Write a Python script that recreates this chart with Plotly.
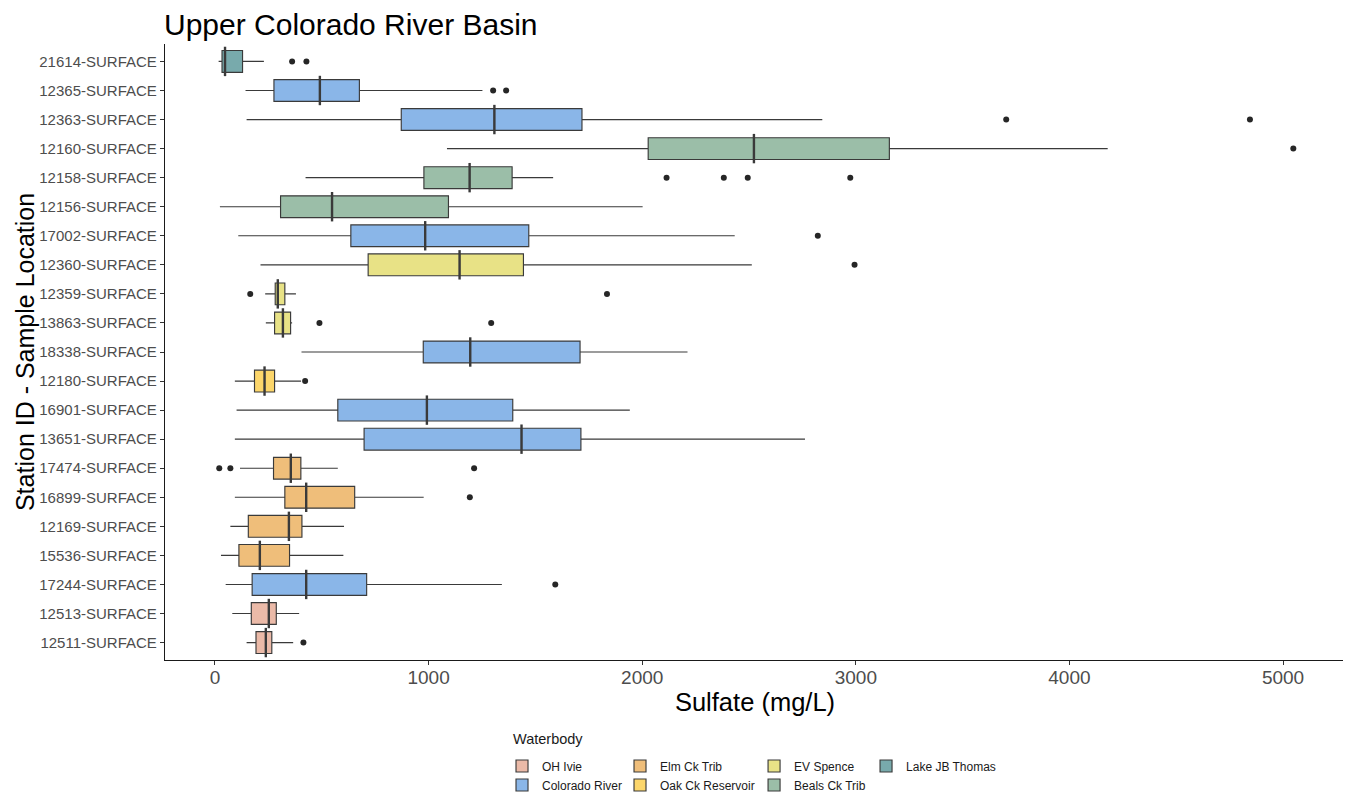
import plotly.graph_objects as go

# stations listed top to bottom as they appear on the chart
stations = [
    "21614-SURFACE", "12365-SURFACE", "12363-SURFACE", "12160-SURFACE",
    "12158-SURFACE", "12156-SURFACE", "17002-SURFACE", "12360-SURFACE",
    "12359-SURFACE", "13863-SURFACE", "18338-SURFACE", "12180-SURFACE",
    "16901-SURFACE", "13651-SURFACE", "17474-SURFACE", "16899-SURFACE",
    "12169-SURFACE", "15536-SURFACE", "17244-SURFACE", "12513-SURFACE",
    "12511-SURFACE",
]
waterbody = [
    "Lake JB Thomas", "Colorado River", "Colorado River", "Beals Ck Trib",
    "Beals Ck Trib", "Beals Ck Trib", "Colorado River", "EV Spence",
    "EV Spence", "EV Spence", "Colorado River", "Oak Ck Reservoir",
    "Colorado River", "Colorado River", "Elm Ck Trib", "Elm Ck Trib",
    "Elm Ck Trib", "Elm Ck Trib", "Colorado River", "OH Ivie",
    "OH Ivie",
]
# box statistics, sulfate mg/L
whisker_low = [17, 143, 148, 1086, 424, 23, 109, 213, 235, 238, 405,
               93, 101, 93, 117, 93, 72, 28, 50, 81, 148]
q1 = [33, 276, 872, 2028, 978, 307, 636, 717, 282, 279, 975,
      185, 575, 698, 274, 327, 156, 112, 174, 170, 192]
median = [47, 491, 1308, 2523, 1192, 548, 984, 1145, 294, 318, 1195,
          232, 992, 1435, 355, 427, 346, 210, 427, 252, 238]
q3 = [129, 676, 1718, 3157, 1391, 1093, 1469, 1444, 327, 354, 1709,
      279, 1394, 1713, 402, 654, 407, 349, 710, 287, 266]
whisker_high = [229, 1252, 2843, 4179, 1583, 2002, 2433, 2513, 379, 361, 2212,
                403, 1942, 2762, 575, 977, 604, 601, 1343, 394, 366]
outliers = [
    [361, 428], [1302, 1363], [3704, 4845], [5048],
    [2114, 2382, 2494, 2974], [], [2822], [2994],
    [165, 1835], [489, 1293], [], [422],
    [], [], [20, 72, 1213], [1193],
    [], [], [1593], [],
    [414],
]

# legend columns (ggplot fills the legend column by column)
legend_columns = [
    ["OH Ivie", "Colorado River"],
    ["Elm Ck Trib", "Oak Ck Reservoir"],
    ["EV Spence", "Beals Ck Trib"],
    ["Lake JB Thomas"],
]
colors = {
    "OH Ivie": "#EBBAA8",
    "Colorado River": "#8AB6E8",
    "Elm Ck Trib": "#EFBE7A",
    "Oak Ck Reservoir": "#FCD66B",
    "EV Spence": "#E8E286",
    "Beals Ck Trib": "#9BBEA8",
    "Lake JB Thomas": "#78AAAC",
}

LINE = "#3a3a3a"
FONT = "Arial, Liberation Sans, sans-serif"
LEGEND_X = [0.2856, 0.3856, 0.4992, 0.5941]

fig = go.Figure()

for col, names in enumerate(legend_columns):
    legend_id = "legend" if col == 0 else f"legend{col + 1}"
    for name in names:
        idx = [i for i, w in enumerate(waterbody) if w == name]
        fig.add_trace(
            go.Box(
                name=name,
                orientation="h",
                y=[stations[i] for i in idx],
                lowerfence=[whisker_low[i] for i in idx],
                q1=[q1[i] for i in idx],
                median=[median[i] for i in idx],
                q3=[q3[i] for i in idx],
                upperfence=[whisker_high[i] for i in idx],
                fillcolor=colors[name],
                line=dict(color=LINE, width=1.15),
                whiskerwidth=0,
                width=0.75,
                legend=legend_id,
                hoverinfo="skip",
            )
        )

# thicker median bars, as in ggplot
fig.add_trace(
    go.Scatter(
        x=median,
        y=stations,
        mode="markers",
        marker=dict(symbol="line-ns", size=21, line=dict(color=LINE, width=2.4)),
        showlegend=False,
        hoverinfo="skip",
    )
)

# outlier points
out_x, out_y = [], []
for s, vals in zip(stations, outliers):
    for v in vals:
        out_x.append(v)
        out_y.append(s)
fig.add_trace(
    go.Scatter(
        x=out_x,
        y=out_y,
        mode="markers",
        marker=dict(color="#262626", size=6),
        showlegend=False,
    )
)

legend_common = dict(
    orientation="v",
    xanchor="left",
    y=-0.1485,
    yanchor="top",
    font=dict(size=12, color="#1a1a1a"),
    itemwidth=30,
    bgcolor="rgba(0,0,0,0)",
)
legends = {}
for col in range(len(legend_columns)):
    key = "legend" if col == 0 else f"legend{col + 1}"
    legends[key] = dict(legend_common, x=LEGEND_X[col])

fig.update_layout(
    template="none",
    width=1343,
    height=791,
    margin=dict(l=157, r=6, t=36, b=139, autoexpand=False),
    paper_bgcolor="white",
    plot_bgcolor="white",
    boxmode="overlay",
    font=dict(family=FONT, color="#4d4d4d"),
    title=dict(
        text="Upper Colorado River Basin",
        x=156 / 1343,
        xanchor="left",
        y=0.979,
        yanchor="middle",
        font=dict(size=30, color="black", family=FONT),
    ),
    xaxis=dict(
        title=dict(text="Sulfate (mg/L)", font=dict(size=25.5, color="black"), standoff=0),
        range=[-234, 5290],
        tickvals=[0, 1000, 2000, 3000, 4000, 5000],
        tickfont=dict(size=19, color="#4d4d4d"),
        ticklabelstandoff=-4,
        showgrid=False,
        zeroline=False,
        showline=True,
        linecolor="#1a1a1a",
        linewidth=1.3,
        ticks="outside",
        ticklen=4,
        tickcolor="#333333",
        automargin=False,
    ),
    yaxis=dict(
        type="category",
        categoryorder="array",
        categoryarray=stations[::-1],
        range=[-0.6, 20.6],
        tickfont=dict(size=15, color="#4d4d4d"),
        showgrid=False,
        zeroline=False,
        showline=True,
        linecolor="#1a1a1a",
        linewidth=1.3,
        ticks="outside",
        ticklen=4,
        tickcolor="#333333",
        automargin=False,
    ),
    annotations=[
        dict(
            text="Station ID - Sample Location",
            xref="paper",
            yref="paper",
            x=-0.1186,
            y=0.5,
            xanchor="center",
            yanchor="middle",
            textangle=-90,
            showarrow=False,
            font=dict(size=25, color="black"),
        ),
        dict(
            text="Waterbody",
            xref="paper",
            yref="paper",
            x=0.2935,
            y=-0.129,
            xanchor="left",
            yanchor="middle",
            showarrow=False,
            font=dict(size=14.5, color="#1a1a1a"),
        ),
    ],
    **legends,
)

fig.write_html("out.html")
